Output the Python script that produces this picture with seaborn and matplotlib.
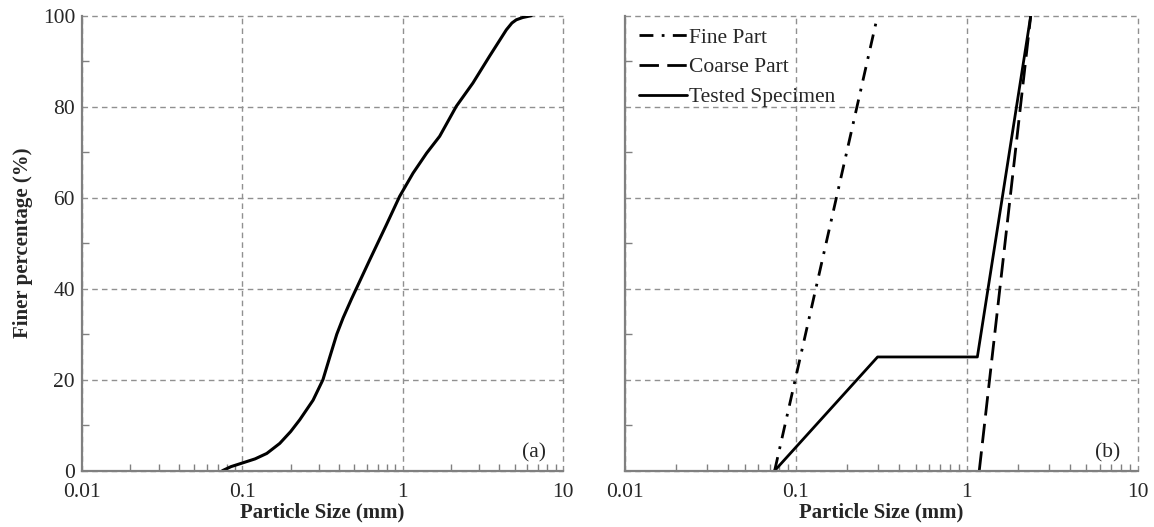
import matplotlib
matplotlib.use("Agg")
import matplotlib.pyplot as plt
import matplotlib.ticker as mticker
import numpy as np
import pandas as pd
import seaborn as sns

# grading curve of the soil, panel (a)
size_a = [0.075, 0.085, 0.1, 0.12, 0.142, 0.171, 0.2, 0.228, 0.276, 0.318,
          0.351, 0.388, 0.425, 0.48, 0.622, 0.79, 0.957, 1.16, 1.41, 1.70,
          2.16, 2.74, 3.48, 4.43, 4.8, 5.11, 5.6, 6.34]
finer_a = [0.0, 0.9, 1.7, 2.6, 3.8, 6.0, 8.6, 11.2, 15.5, 20.0,
           25.0, 30.0, 33.6, 37.8, 46.3, 54.0, 60.3, 65.4, 69.8, 73.5,
           80.1, 85.2, 91.1, 96.9, 98.4, 99.1, 99.6, 100.0]

# panel (b): fine part, coarse part, tested specimen
size_fine = [0.075, 0.30]
finer_fine = [0.0, 100.0]
size_coarse = [1.18, 2.36]
finer_coarse = [0.0, 100.0]
size_test = [0.075, 0.30, 1.15, 2.36]
finer_test = [0.0, 25.0, 25.0, 100.0]

sns.set_style("white")
plt.rcParams["font.family"] = ["Liberation Serif", "DejaVu Serif"]

fig = plt.figure(figsize=(11.54, 5.27), dpi=100)
ax1 = fig.add_axes([0.0711, 0.1068, 0.4168, 0.8634])
ax2 = fig.add_axes([0.5416, 0.1068, 0.4445, 0.8634])

grey = "#808080"


def style_axis(ax, show_ylabels):
    ax.set_xscale("log")
    ax.set_xlim(0.01, 10)
    ax.set_ylim(0, 100)
    ax.xaxis.set_major_locator(mticker.LogLocator(base=10, numticks=10))
    ax.xaxis.set_minor_locator(mticker.LogLocator(base=10, subs=np.arange(2, 10), numticks=10))
    ax.xaxis.set_major_formatter(mticker.FuncFormatter(lambda v, p: "%g" % v))
    ax.xaxis.set_minor_formatter(mticker.NullFormatter())
    ax.yaxis.set_major_locator(mticker.MultipleLocator(20))
    ax.yaxis.set_minor_locator(mticker.MultipleLocator(10))
    ax.grid(True, which="major", linestyle=(0, (4, 3)), color="#909090", linewidth=1.0)
    for gl in ax.get_xgridlines() + ax.get_ygridlines():
        gl.set_clip_on(False)
    ax.tick_params(which="both", direction="in", color=grey, labelsize=15.5,
                   bottom=True, left=True)
    ax.tick_params(which="major", length=0)
    ax.tick_params(axis="x", which="major", pad=9)
    ax.tick_params(axis="y", which="major", pad=5)
    ax.tick_params(which="minor", length=5, width=1)
    if not show_ylabels:
        ax.set_yticklabels([])
    for s in ["top", "right"]:
        ax.spines[s].set_visible(False)
    for s in ["left", "bottom"]:
        ax.spines[s].set_color(grey)
        ax.spines[s].set_linewidth(1.6)
    ax.set_xlabel("Particle Size (mm)", fontsize=15, fontweight="bold", labelpad=0)


df_a = pd.DataFrame({"size": size_a, "finer": finer_a})
sns.lineplot(data=df_a, x="size", y="finer", ax=ax1, color="black", linewidth=2.2,
             sort=False, estimator=None)
style_axis(ax1, True)
ax1.set_ylabel("Finer percentage (%)", fontsize=15, fontweight="bold", labelpad=7)
ax1.text(0.965, 0.04, "(a)", transform=ax1.transAxes, ha="right", va="center", fontsize=15.5)

sns.lineplot(x=size_fine, y=finer_fine, ax=ax2, color="black", linewidth=2.0,
             label="Fine Part", sort=False, estimator=None)
sns.lineplot(x=size_coarse, y=finer_coarse, ax=ax2, color="black", linewidth=2.0,
             label="Coarse Part", sort=False, estimator=None)
sns.lineplot(x=size_test, y=finer_test, ax=ax2, color="black", linewidth=2.0,
             label="Tested Specimen", sort=False, estimator=None)
lines = ax2.get_lines()
lines[0].set_dashes([5, 3, 1, 3])
lines[1].set_dashes([7, 3])
style_axis(ax2, False)
ax2.set_ylabel("")
ax2.text(0.965, 0.04, "(b)", transform=ax2.transAxes, ha="right", va="center", fontsize=15.5)
leg = ax2.legend(loc="upper left", frameon=False, fontsize=15.5, handlelength=2.2,
                 handletextpad=0.1, labelspacing=0.45, borderaxespad=0.15,
                 bbox_to_anchor=(0.005, 1.0))
for h in leg.get_lines():
    h.set_linewidth(2.0)

fig.savefig("out.png", dpi=100)
